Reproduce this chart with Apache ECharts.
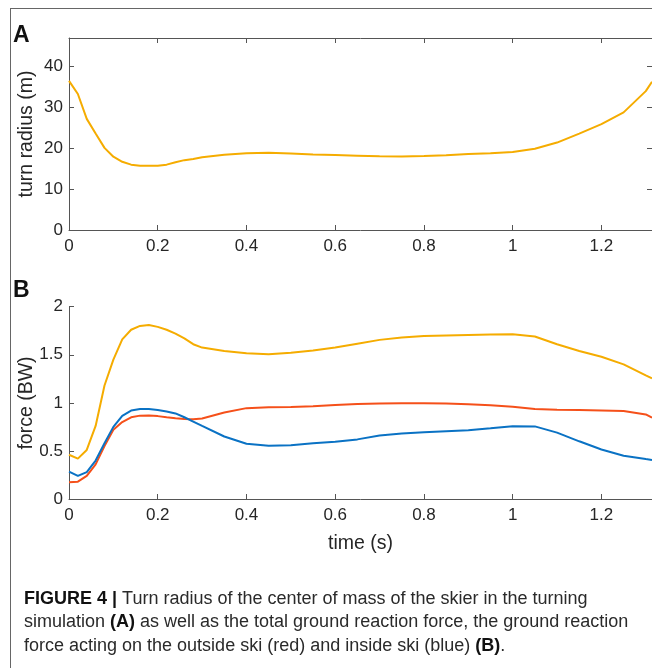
<!DOCTYPE html>
<html>
<head>
<meta charset="utf-8">
<script src="https://cdn.jsdelivr.net/npm/echarts@6/dist/echarts.min.js"></script>
<style>
  html, body { margin: 0; padding: 0; background: #fff; }
  #chart { width: 652px; height: 668px; }
</style>
</head>
<body>
<div id="chart"></div>
<script>
// time samples (s)
var time = [0, 0.02, 0.04, 0.06, 0.08, 0.1, 0.12, 0.14, 0.16, 0.18, 0.2, 0.22, 0.24, 0.26, 0.28, 0.3,
  0.35, 0.4, 0.45, 0.5, 0.55, 0.6, 0.65, 0.7, 0.75, 0.8, 0.85, 0.9, 0.95, 1.0, 1.05, 1.1, 1.15, 1.2, 1.25, 1.3, 1.314];

// A: turn radius of the centre of mass (m)
var turnRadius = [36.5, 33.3, 27.2, 23.6, 20.1, 17.95, 16.7, 16.0, 15.75, 15.7, 15.75, 16.0, 16.6, 17.1, 17.4, 17.8,
  18.4, 18.8, 18.9, 18.7, 18.5, 18.35, 18.2, 18.05, 18.0, 18.1, 18.3, 18.6, 18.8, 19.1, 19.9, 21.4, 23.6, 25.9, 28.8, 34.0, 36.3];

// B: ground reaction forces (BW)
var totalForce = [0.46, 0.42, 0.51, 0.76, 1.18, 1.45, 1.66, 1.76, 1.80, 1.81, 1.79, 1.76, 1.72, 1.67, 1.61, 1.575,
  1.54, 1.515, 1.505, 1.52, 1.545, 1.575, 1.615, 1.655, 1.68, 1.695, 1.70, 1.705, 1.71, 1.713, 1.69, 1.61, 1.54, 1.48, 1.40, 1.285, 1.255];
var outsideForce = [0.175, 0.18, 0.24, 0.36, 0.55, 0.72, 0.80, 0.85, 0.867, 0.868, 0.862, 0.85, 0.84, 0.832, 0.83, 0.838,
  0.90, 0.945, 0.955, 0.958, 0.965, 0.978, 0.988, 0.993, 0.995, 0.995, 0.993, 0.985, 0.975, 0.96, 0.935, 0.928, 0.925, 0.92, 0.915, 0.88, 0.846];
var insideForce = [0.285, 0.24, 0.28, 0.40, 0.58, 0.75, 0.865, 0.92, 0.935, 0.935, 0.925, 0.91, 0.89, 0.85, 0.805, 0.76,
  0.65, 0.575, 0.555, 0.558, 0.58, 0.595, 0.62, 0.66, 0.68, 0.695, 0.705, 0.715, 0.735, 0.757, 0.755, 0.69, 0.60, 0.515, 0.45, 0.415, 0.406];

var xTicks = { min: 0, max: 1.314, interval: 0.2 };

var pairs = function(ys) {
  return time.map(function(t, i) { return [t, ys[i]]; });
};

var axisGrey = '#555';
var textDark = '#262626';
var font = 'Liberation Sans';

var tickFmt = function(v) {
  return Math.abs(v / 0.2 - Math.round(v / 0.2)) < 1e-6 ? String(+v.toFixed(1)) : '';
};

var inTick = function() {
  return { show: true, inside: true, length: 5, lineStyle: { color: axisGrey } };
};

var baseX = function(gridIndex, position, labels) {
  return {
    type: 'value',
    gridIndex: gridIndex,
    position: position,
    min: xTicks.min,
    max: xTicks.max,
    interval: xTicks.interval,
    axisLine: { show: true, onZero: false, lineStyle: { color: axisGrey, width: 1 } },
    axisTick: inTick(),
    splitLine: { show: false },
    axisLabel: {
      show: labels,
      formatter: tickFmt,
      color: textDark,
      fontFamily: font,
      fontSize: 17,
      margin: 8,
      showMaxLabel: false
    }
  };
};

var line = function(name, xi, yi, data, color) {
  return {
    name: name,
    type: 'line',
    xAxisIndex: xi,
    yAxisIndex: yi,
    data: pairs(data),
    showSymbol: false,
    lineStyle: { color: color, width: 2 },
    itemStyle: { color: color },
    animation: false,
    z: 3
  };
};

var chart = echarts.init(document.getElementById('chart'), null, { renderer: 'canvas' });

var xA = baseX(0, 'bottom', true);
var xATop = baseX(0, 'top', false);
var xB = baseX(1, 'bottom', true);
xB.name = 'time (s)';
xB.nameLocation = 'middle';
xB.nameGap = 35;
xB.nameTextStyle = { color: textDark, fontFamily: font, fontSize: 19.5 };

var yName = function(text, cy) {
  return {
    type: 'text', x: 27, y: cy, rotation: Math.PI / 2,
    style: { text: text, fontFamily: font, fontSize: 19.5, fill: textDark, align: 'center', verticalAlign: 'middle' }
  };
};

var option = {
  backgroundColor: '#fff',
  animation: false,
  grid: [
    { left: 69, top: 38, right: 0, height: 192, containLabel: false },
    { left: 69, top: 306.7, right: 0, height: 192.3, containLabel: false }
  ],
  xAxis: [xA, xATop, xB],
  yAxis: [
    {
      type: 'value',
      gridIndex: 0,
      position: 'left',
      min: 0,
      max: 47,
      interval: 10,
      axisLine: { show: true, onZero: false, lineStyle: { color: axisGrey, width: 1 } },
      axisTick: inTick(),
      splitLine: { show: false },
      axisLabel: {
        color: textDark, fontFamily: font, fontSize: 17, margin: 6, showMaxLabel: false,
        formatter: function(v) { return v % 10 === 0 ? String(v) : ''; }
      }
    },
    {
      type: 'value',
      gridIndex: 0,
      position: 'right',
      min: 0,
      max: 47,
      interval: 10,
      axisLine: { show: false, onZero: false },
      axisTick: inTick(),
      splitLine: { show: false },
      axisLabel: { show: false }
    },
    {
      type: 'value',
      gridIndex: 1,
      position: 'left',
      min: 0,
      max: 2,
      interval: 0.5,
      axisLine: { show: true, onZero: false, lineStyle: { color: axisGrey, width: 1 } },
      axisTick: inTick(),
      splitLine: { show: false },
      axisLabel: { color: textDark, fontFamily: font, fontSize: 17, margin: 6 }
    }
  ],
  series: [
    line('turn radius', 0, 0, turnRadius, '#F5AC00'),
    line('total', 2, 2, totalForce, '#F5AC00'),
    line('outside ski', 2, 2, outsideForce, '#F5501A'),
    line('inside ski', 2, 2, insideForce, '#0A72C4')
  ],
  graphic: [
    { type: 'line', shape: { x1: 10, y1: 8.5, x2: 652, y2: 8.5 }, style: { stroke: '#666', lineWidth: 1 } },
    { type: 'line', shape: { x1: 10.5, y1: 8, x2: 10.5, y2: 668 }, style: { stroke: '#666', lineWidth: 1 } },
    { type: 'text', x: 13, y: 24, style: { text: 'A', fontFamily: font, fontWeight: 'bold', fontSize: 23, fill: '#111' } },
    { type: 'text', x: 13, y: 279, style: { text: 'B', fontFamily: font, fontWeight: 'bold', fontSize: 23, fill: '#111' } },
    yName('turn radius (m)', 134),
    yName('force (BW)', 403),
    {
      type: 'text',
      x: 24,
      y: 587,
      style: {
        text: '{b|FIGURE 4 |}{n| Turn radius of the center of mass of the skier in the turning}\n' +
              '{n|simulation }{b|(A)}{n| as well as the total ground reaction force, the ground reaction}\n' +
              '{n|force acting on the outside ski (red) and inside ski (blue) }{b|(B)}{n|.}',
        fill: '#2a2a2a',
        fontFamily: font,
        fontSize: 18,
        lineHeight: 23.5,
        rich: {
          n: { fontFamily: font, fontSize: 18, lineHeight: 23.5, fill: '#2a2a2a', fontWeight: 'normal' },
          b: { fontFamily: font, fontSize: 18, lineHeight: 23.5, fill: '#111', fontWeight: 'bold' }
        }
      }
    }
  ]
};

chart.setOption(option);
</script>
</body>
</html>
